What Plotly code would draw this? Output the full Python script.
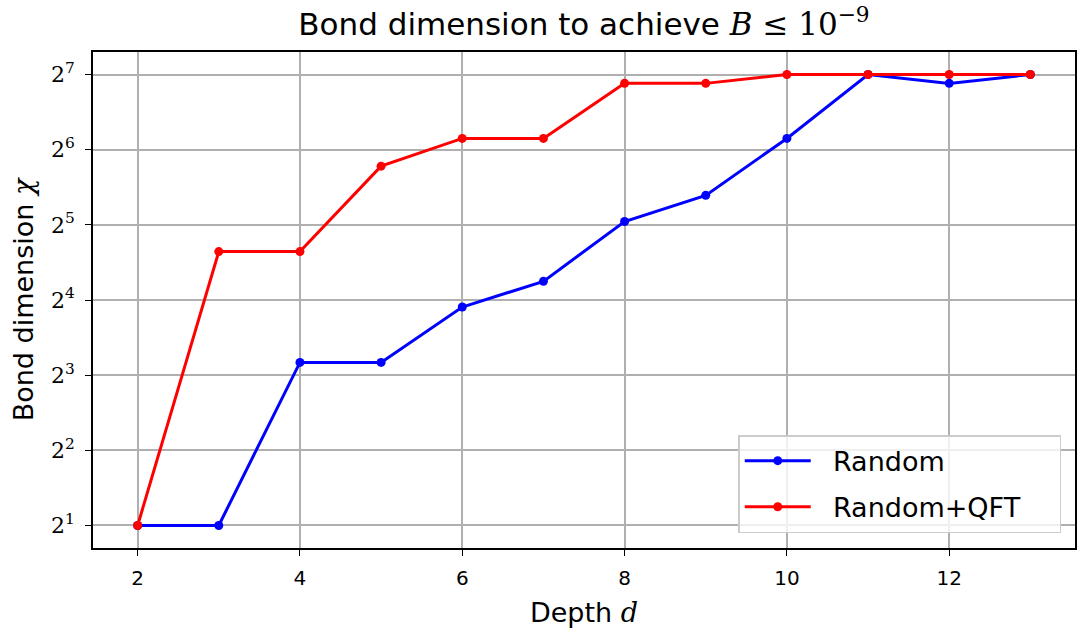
import math
import plotly.graph_objects as go

# Circuit depth and the bond dimension needed to reach the error threshold
depth = [2, 3, 4, 5, 6, 7, 8, 9, 10, 11, 12, 13]
chi_random = [2, 2, 9, 9, 15, 19, 33, 42, 71, 128, 118, 128]
chi_random_qft = [2, 25, 25, 55, 71, 71, 118, 118, 128, 128, 128, 128]

ytick_powers = [1, 2, 3, 4, 5, 6, 7]
xtick_vals = [2, 4, 6, 8, 10, 12]

SANS = "'DejaVu Sans', sans-serif"
SERIF = "'DejaVu Serif', 'Liberation Serif', serif"
PAD = "\u00a0" * 4  # right-hand padding inside the legend box


def math_span(txt):
    return f"<span style=\"font-family:{SERIF}\"><i>{txt}</i></span>"


fig = go.Figure()
fig.add_trace(go.Scatter(
    x=depth, y=chi_random, name="  Random" + PAD, mode="lines+markers",
    legendgroup="random",
    line=dict(color="#0000ff", width=3), marker=dict(color="#0000ff", size=9),
))
fig.add_trace(go.Scatter(
    x=depth, y=chi_random_qft, name="  Random+QFT" + PAD, mode="lines+markers",
    legendgroup="random_qft",
    line=dict(color="#ff0000", width=3), marker=dict(color="#ff0000", size=9),
))

axis_common = dict(
    showline=True, linecolor="black", linewidth=1.5, mirror=True,
    showgrid=True, gridcolor="#b0b0b0", gridwidth=1.5,
    ticks="outside", ticklen=6, tickwidth=1.3, tickcolor="black",
    zeroline=False,
)

fig.update_layout(
    width=1085, height=635,
    paper_bgcolor="white", plot_bgcolor="white",
    margin=dict(l=93, r=8, t=52, b=87),
    font=dict(family=SANS, color="black"),
    title=dict(
        text="Bond dimension to achieve " + math_span("B") +
             f"<span style=\"font-family:{SERIF}\"> ≤ 10<sup>−9</sup></span>",
        x=0.5, xref="paper", xanchor="center",
        y=0.962, yref="container", yanchor="middle",
        font=dict(size=31),
    ),
    xaxis=dict(
        **axis_common,
        range=[1.45, 13.55],
        tickvals=xtick_vals,
        tickfont=dict(size=20),
        ticklabelstandoff=5,
        title=dict(text="Depth " + math_span("d"), font=dict(size=27), standoff=14),
    ),
    yaxis=dict(
        **axis_common,
        type="log",
        range=[0.7 * math.log10(2), 7.3 * math.log10(2)],
        tickvals=[2 ** p for p in ytick_powers],
        ticktext=[f"2<sup>{p}</sup>" for p in ytick_powers],
        tickfont=dict(size=22, family=SERIF),
        ticklabelstandoff=6,
        title=dict(text="Bond dimension " + math_span("χ"), font=dict(size=27), standoff=10),
    ),
    legend=dict(
        x=0.986, y=0.03, xanchor="right", yanchor="bottom",
        bgcolor="rgba(255,255,255,0.8)", bordercolor="#cccccc", borderwidth=1.5,
        font=dict(size=27), itemwidth=66,
        traceorder="grouped", tracegroupgap=8,
    ),
    showlegend=True,
)

fig.write_html("out.html")
